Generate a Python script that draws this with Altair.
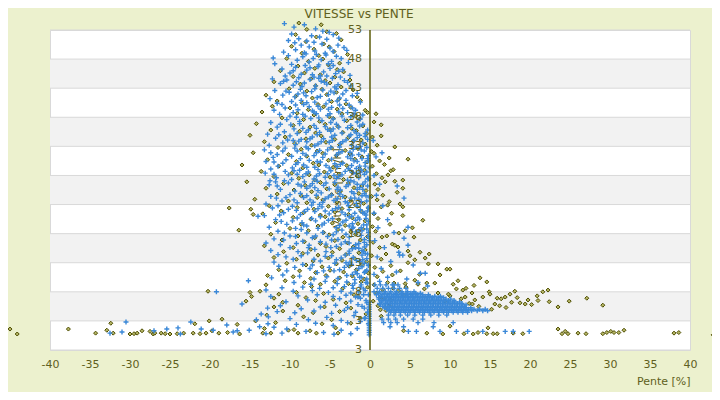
import altair as alt
import pandas as pd

title_text = "VITESSE vs PENTE"
x_title = "Pente [%]"
y_title = "Vitesse [km/h]"
x_ticks = [-40, -35, -30, -25, -20, -15, -10, -5, 0, 5, 10, 15, 20, 25, 30, 35, 40]
y_ticks = [-2, 3, 8, 13, 18, 23, 28, 33, 38, 43, 48, 53]
y_tick_labels = ["3", "3", "8", "13", "18", "23", "28", "33", "38", "43", "48", "53"]
band_lo = [3, 13, 23, 33, 43]
band_hi = [8, 18, 28, 38, 48]

# ---- blue series (pente, vitesse) ----
blue_high = [
    (-10.7,54.1),(-9.5,53.5),(-8.2,53.9),(-5.9,52.8),(-5.1,52.6),(-6.8,53.2),
    (-9.8,52.3),(-8.9,51.5),(-7.3,52.0),(-6.3,51.8),(-4.6,52.2),(-10.2,51.2),(-7.9,51.1),(-5.4,51.4),(-3.9,51.6),
    (-8.6,50.4),(-9.3,49.6),(-7.6,50.1),(-6.9,49.4),(-6.0,50.6),(-5.0,49.9),(-4.0,50.4),(-3.25,50.0),(-10.8,49.2),(-8.2,49.1),(-4.6,49.3),(-2.9,49.5),
    (-12.1,48.2),(-11.9,47.2),(-10.2,48.6),(-9.1,47.8),(-8.4,48.4),(-7.6,47.5),(-6.7,48.8),(-6.1,47.9),(-5.5,48.7),(-4.8,47.6),(-3.6,48.1),(-2.7,47.4),(-9.8,47.1),(-7.1,48.1),(-5.2,47.2),
    (-11.0,46.3),(-10.0,45.6),(-9.3,46.6),(-8.6,45.4),(-7.9,46.1),(-7.2,45.3),(-6.5,46.7),(-5.8,45.8),(-5.0,46.4),(-4.3,45.5),(-3.4,46.2),(-2.5,45.2),(-10.6,45.1),(-8.1,46.9),(-6.2,45.1),(-4.6,46.9),
    (-12.2,44.6),(-11.2,43.8),(-10.4,44.4),(-9.6,43.5),(-8.9,44.8),(-8.2,43.9),(-7.5,44.5),(-6.8,43.4),(-6.1,44.2),(-5.4,43.7),(-4.7,44.7),(-4.0,43.6),(-3.2,44.3),(-2.4,43.4),(-9.2,44.1),(-7.0,44.9),(-5.7,44.0),(-3.7,44.9),
    (-11.9,42.6),(-10.9,41.8),(-10.1,42.3),(-9.4,41.5),(-8.7,42.8),(-8.0,41.7),(-7.3,42.4),(-6.6,41.4),(-5.9,42.7),(-5.2,41.9),(-4.5,42.2),(-3.8,41.3),(-3.0,42.6),(-2.2,41.7),(-12.5,41.2),(-9.0,42.0),(-6.9,42.9),(-4.2,42.9),(-1.6,42.1),
    (-11.6,40.4),(-10.6,39.6),(-9.8,40.7),(-9.0,39.3),(-8.3,40.2),(-7.6,39.8),(-6.9,40.6),(-6.2,39.4),(-5.5,40.3),(-4.8,39.7),(-4.1,40.8),(-3.4,39.5),(-2.6,40.1),(-1.8,39.2),(-1.2,40.6),(-12.0,39.2),(-8.6,40.9),(-7.2,39.1),(-5.1,40.9),(-3.0,40.9),
    (-11.3,38.5),(-10.4,37.6),(-9.6,38.8),(-8.8,37.3),(-8.1,38.2),(-7.4,37.8),(-6.7,38.6),(-6.0,37.4),(-5.3,38.3),(-4.6,37.7),(-3.9,38.9),(-3.2,37.5),(-2.4,38.1),(-1.6,37.2),(-0.9,38.4),(-12.4,37.1),(-9.2,38.0),(-7.0,38.9),(-4.9,37.1),(-2.8,38.8),
]
blue_mid = [
    (-11.6,36.3),(-10.7,35.5),(-9.9,36.7),(-9.1,35.2),(-8.4,36.1),(-7.7,35.8),(-7.0,36.6),(-6.3,35.4),(-5.6,36.4),(-4.9,35.6),(-4.2,36.8),(-3.5,35.3),(-2.8,36.2),(-2.0,35.7),(-1.3,36.5),(-0.6,35.2),(-12.8,35.1),(-8.8,36.9),(-6.6,35.0),(-4.6,36.0),(-2.4,35.0),
    (-11.8,34.4),(-10.9,33.6),(-10.0,34.8),(-9.3,33.3),(-8.6,34.2),(-7.9,33.8),(-7.2,34.6),(-6.5,33.4),(-5.8,34.3),(-5.1,33.7),(-4.4,34.9),(-3.7,33.5),(-3.0,34.1),(-2.3,33.2),(-1.6,34.5),(-0.9,33.6),(-0.3,34.2),(-12.6,33.2),(-9.6,34.0),(-6.9,33.1),(-4.7,34.0),(-2.6,34.8),(-1.2,33.0),
    (-13.2,32.4),(-11.6,31.6),(-10.6,32.7),(-9.8,31.3),(-9.1,32.2),(-8.4,31.8),(-7.7,32.6),(-7.0,31.4),(-6.3,32.3),(-5.6,31.7),(-4.9,32.8),(-4.2,31.5),(-3.5,32.1),(-2.8,31.2),(-2.1,32.5),(-1.4,31.6),(-0.7,32.2),(-0.2,31.4),(-12.1,31.1),(-8.0,32.9),(-5.9,31.1),(-3.8,32.9),(-1.7,32.9),
    (-13.0,30.4),(-11.5,29.6),(-10.5,30.7),(-9.7,29.3),(-9.0,30.2),(-8.3,29.8),(-7.6,30.6),(-6.9,29.4),(-6.2,30.3),(-5.5,29.7),(-4.8,30.8),(-4.1,29.5),(-3.4,30.1),(-2.7,29.2),(-2.0,30.5),(-1.3,29.6),(-0.6,30.2),(-0.1,29.3),(-12.4,29.1),(-8.7,30.9),(-6.5,29.0),(-4.4,30.0),(-2.4,30.9),(-1.0,30.9),
    (-13.1,28.4),(-11.7,27.6),(-10.6,28.7),(-9.8,27.3),(-9.1,28.2),(-8.4,27.8),(-7.7,28.6),(-7.0,27.4),(-6.3,28.3),(-5.6,27.7),(-4.9,28.8),(-4.2,27.5),(-3.5,28.1),(-2.8,27.2),(-2.1,28.5),(-1.4,27.6),(-0.7,28.2),(-0.2,27.4),(-12.5,27.1),(-8.8,28.9),(-6.6,27.0),(-4.5,28.0),(-2.5,28.9),(-1.1,28.9),
    (-12.6,26.4),(-11.2,25.6),(-10.2,26.7),(-9.4,25.3),(-8.6,26.2),(-7.9,25.8),(-7.2,26.6),(-6.5,25.4),(-5.8,26.3),(-5.1,25.7),(-4.4,26.8),(-3.7,25.5),(-3.0,26.1),(-2.3,25.2),(-1.6,26.5),(-0.9,25.6),(-0.3,26.2),(-11.8,26.9),(-8.2,26.9),(-6.1,25.0),(-4.0,26.0),(-2.0,26.9),
    (-12.4,24.4),(-11.0,23.6),(-10.0,24.7),(-9.1,23.3),(-8.3,24.2),(-7.5,23.8),(-6.7,24.6),(-5.9,23.4),(-5.2,24.3),(-4.5,23.7),(-3.8,24.8),(-3.1,23.5),(-2.4,24.1),(-1.7,23.2),(-1.0,24.5),(-0.4,23.6),(-13.0,23.1),(-8.7,24.9),(-6.3,23.0),(-4.1,24.0),(-2.0,24.9),(-0.1,24.3),
    (-12.2,22.4),(-10.8,21.6),(-9.7,22.7),(-8.7,21.3),(-7.8,22.2),(-6.9,21.8),(-6.0,22.6),(-5.1,21.4),(-4.3,22.3),(-3.5,21.7),(-2.7,22.8),(-1.9,21.5),(-1.2,22.1),(-0.5,21.2),(-14.0,21.0),(-13.2,21.1),(-11.3,21.2),(-9.2,22.0),(-7.3,22.9),(-4.7,22.0),(-2.3,21.0),(-0.2,22.5),
]
blue_core_fill = [
    (-9.4,50.8),(-7.0,50.9),(-5.6,49.0),(-8.0,48.9),(-6.4,47.0),(-4.2,48.5),(-9.6,46.0),(-7.5,46.5),(-5.4,45.1),(-3.9,45.9),
    (-10.8,44.2),(-8.5,43.3),(-6.4,44.7),(-4.4,43.2),(-2.8,44.0),(-10.5,42.5),(-8.3,42.2),(-6.2,41.6),(-4.9,42.5),(-3.4,42.0),
    (-11.0,40.2),(-9.3,40.1),(-7.9,40.5),(-6.5,39.9),(-5.2,39.4),(-3.8,40.1),(-2.2,39.6),(-10.0,38.2),(-8.4,38.5),(-6.4,37.9),(-5.0,38.6),(-3.5,38.2),(-2.0,38.6),(-1.2,37.7),
    (-11.2,36.8),(-9.5,36.0),(-8.0,35.4),(-6.7,36.1),(-5.3,35.9),(-3.9,36.3),(-2.4,36.6),(-1.7,35.3),(-0.9,36.8),(-0.3,35.8),
    (-11.4,35.0),(-10.3,34.1),(-8.9,33.9),(-7.5,34.3),(-6.1,33.8),(-4.8,34.6),(-3.4,33.8),(-2.0,34.0),(-1.3,34.9),(-0.6,34.7),
    (-12.4,31.9),(-10.9,32.2),(-9.4,32.7),(-8.0,31.5),(-6.7,31.9),(-5.3,32.4),(-3.9,31.9),(-2.5,32.0),(-1.1,32.4),(-0.4,32.8),
    (-12.0,30.3),(-10.9,30.1),(-9.3,29.9),(-7.9,29.4),(-6.6,30.4),(-5.1,29.3),(-3.7,29.9),(-2.3,29.7),(-1.6,30.4),(-0.3,30.9),
    (-12.0,28.2),(-10.2,28.1),(-9.5,28.8),(-8.0,28.3),(-6.7,27.9),(-5.3,28.3),(-3.9,27.8),(-3.1,28.7),(-1.7,28.3),(-0.4,28.6),
    (-11.6,26.2),(-10.7,27.1),(-9.0,26.5),(-7.5,26.2),(-6.9,25.9),(-5.5,26.7),(-4.1,25.6),(-2.7,26.4),(-1.3,25.9),(-0.6,26.9),
    (-11.7,24.1),(-10.5,24.2),(-9.5,23.8),(-7.9,24.5),(-7.1,23.4),(-5.6,24.0),(-4.8,24.6),(-3.4,24.4),(-2.8,23.3),(-1.4,23.9),(-0.7,24.9),
    (-11.5,22.8),(-10.2,22.2),(-8.2,21.8),(-6.5,22.3),(-5.6,21.9),(-3.9,22.5),(-3.1,21.3),(-1.6,22.7),(-0.9,21.6),(-0.3,21.9),
    (-11.1,20.1),(-9.7,20.2),(-8.3,19.5),(-7.3,20.6),(-6.0,19.5),(-5.2,20.3),(-3.4,20.0),(-2.6,19.3),(-1.8,20.3),(-0.5,20.6),
    (-10.7,18.1),(-9.3,17.5),(-7.9,18.1),(-6.8,17.6),(-5.3,17.5),(-4.2,18.3),(-3.0,17.9),(-1.4,18.6),(-0.2,18.2),
    (-11.2,16.1),(-9.2,16.3),(-7.7,15.6),(-6.2,16.6),(-4.9,15.6),(-3.6,16.2),(-2.6,16.4),(-1.8,15.6),(-0.4,16.1),
    (-10.5,14.0),(-8.6,14.2),(-7.0,13.6),(-5.6,14.1),(-4.2,13.5),(-3.1,14.3),(-2.1,13.9),(-1.3,13.2),(-0.6,14.6),
    (-9.4,12.2),(-7.2,12.6),(-5.8,11.6),(-4.5,11.6),(-3.2,12.2),(-2.3,12.7),(-1.4,12.0),(-0.7,11.3),(-0.2,12.6),
]
blue_low = [
    (-11.8,20.4),(-10.4,19.6),(-9.1,20.7),(-7.9,19.3),(-6.8,20.2),(-5.7,19.8),(-4.7,20.6),(-3.8,19.4),(-3.0,20.3),(-2.2,19.7),(-1.5,20.8),(-0.8,19.5),(-0.2,20.1),(-12.6,19.1),(-8.5,19.9),(-6.2,20.9),(-4.2,19.0),(-2.6,20.9),(-1.1,19.0),
    (-11.5,18.4),(-10.0,17.6),(-8.6,18.7),(-7.2,17.3),(-5.9,18.2),(-4.6,17.8),(-3.5,18.6),(-2.6,17.4),(-1.8,18.3),(-1.1,17.7),(-0.4,18.8),(-12.0,17.1),(-9.3,18.9),(-6.5,18.9),(-4.0,17.0),(-2.2,18.9),(-0.7,17.0),
    (-13.0,16.4),(-10.0,15.6),(-8.4,16.7),(-6.9,15.3),(-5.5,16.2),(-4.2,15.8),(-3.1,16.6),(-2.2,15.4),(-1.4,16.3),(-0.7,15.7),(-0.1,16.8),(-12.4,15.1),(-10.8,16.9),(-7.6,16.0),(-4.8,16.9),(-2.6,15.0),(-1.0,15.1),
    (-11.5,14.4),(-9.6,13.6),(-7.8,14.7),(-6.2,13.3),(-4.8,14.2),(-3.6,13.8),(-2.6,14.6),(-1.7,13.4),(-1.0,14.3),(-0.4,13.7),(-12.0,13.1),(-9.0,14.9),(-5.5,14.9),(-3.0,13.0),(-0.8,14.9),
    (-11.4,12.4),(-10.4,11.6),(-8.4,12.7),(-6.6,11.3),(-5.1,12.2),(-3.8,11.8),(-2.7,12.6),(-1.8,11.4),(-1.0,12.3),(-0.4,11.7),(-7.5,12.0),(-4.4,12.9),(-2.2,11.0),(-0.7,12.9),
    (-15.2,9.9),(-12.3,10.4),(-10.9,10.9),(-9.5,9.6),(-8.8,10.7),(-7.4,9.3),(-7.0,10.2),(-5.6,9.8),(-5.4,10.6),(-4.1,9.4),(-4.0,10.3),(-2.9,9.7),(-2.9,10.8),(-1.9,9.5),(-1.9,10.1),(-1.1,9.2),(-1.1,10.5),(-0.5,9.6),(-0.4,10.2),
    (-19.2,8.0),(-13.0,8.3),(-12.4,7.2),(-11.0,8.7),(-9.6,8.1),(-9.0,7.3),(-8.4,8.8),(-7.2,8.2),(-6.6,7.5),(-6.3,8.6),(-5.2,7.9),(-4.6,7.2),(-4.6,8.7),(-3.6,8.1),(-3.0,7.4),(-3.2,8.9),(-2.4,7.8),(-1.8,7.1),(-2.1,8.6),(-1.4,8.0),(-0.8,7.5),(-1.2,8.8),(-0.6,8.2),
    (-16.0,5.9),(-12.8,5.2),(-11.2,5.6),(-10.5,6.3),(-8.6,5.1),(-7.8,6.6),(-6.2,5.4),(-5.6,6.2),(-4.3,5.7),(-3.8,6.8),(-2.8,5.3),(-2.4,6.4),(-1.5,5.8),(-1.2,6.9),(-0.4,6.1),(-0.7,5.2),
    (-14.2,3.2),(-13.6,4.2),(-12.7,3.7),(-11.6,4.6),(-10.0,3.4),(-9.4,4.4),(-7.7,3.2),(-7.0,4.7),(-5.4,3.6),(-4.8,4.3),(-3.6,3.1),(-3.2,4.8),(-2.0,3.9),(-1.8,4.5),(-0.7,3.4),
    (-30.5,2.8),(-32.5,0.9),(-31.0,1.1),(-27.0,1.3),(-25.4,1.6),(-24.0,1.8),(-23.7,0.75),(-22.4,2.8),(-21.1,1.6),(-19.6,1.4),(-17.9,2.3),(-17.1,1.1),(-16.6,1.3),(-15.1,1.4),(-13.8,2.0),(-12.75,2.5),(-13.0,0.8),(-12.0,1.9),(-11.0,0.9),(-10.4,1.6),(-9.2,2.4),(-8.0,1.2),(-6.8,2.6),(-5.8,1.0),(-4.6,2.2),(-4.5,0.7),(-3.6,1.4),(-2.8,2.7),(-2.4,0.8),(-1.6,1.7),(-1.2,2.9),
]
blue_near_zero = [
    (-0.2,30.5),(-0.6,29.6),(-1.2,28.6),(-0.3,27.5),(-0.9,26.5),(-1.6,25.6),(-0.5,24.5),(-1.1,23.5),(-0.2,22.5),(-0.7,21.5),(-1.3,20.5),(-0.4,19.5),(-1.0,18.5),(-0.2,17.5),(-0.7,16.5),(-1.4,15.5),(-0.3,14.5),(-0.9,13.5),(-0.2,12.5),(-0.6,11.5),(-1.3,10.5),(-0.3,9.5),(-0.8,8.5),(-0.2,7.5),(-0.5,6.5),(-1.0,5.5),(-0.3,4.5),(-0.6,3.5),(-0.2,2.5),
    (-2.2,31.5),(-1.7,29.2),(-2.4,27.1),(-1.9,24.1),(-2.6,22.1),(-2.1,19.1),(-1.8,16.1),(-2.5,13.1),(-1.6,11.1),(-2.2,9.1),(-1.5,7.1),
]
blue_zero_column_v = [0.6, 1.0, 1.4, 1.8, 2.2, 2.6, 3.0, 3.4, 3.8, 4.2, 4.6, 5.0, 5.4, 5.8, 6.2]
blue_blob_rows = [
    (9.2, [0.6, 1.3, 2.0, 2.8, 3.5]),
    (8.6, [0.9, 1.6, 2.3, 3.0, 3.7, 4.5]),
    (8.0, [0.5, 1.2, 1.9, 2.6, 3.3, 4.0, 4.7, 5.5]),
    (7.75, [1.1, 1.8, 2.5, 3.2, 3.9, 4.5, 5.1, 5.7, 6.3]),
    (7.5, [0.8, 1.5, 2.2, 2.9, 3.5, 4.1, 4.7, 5.3, 5.9, 6.6, 7.3]),
    (7.25, [1.4, 2.1, 2.7, 3.3, 3.9, 4.5, 5.1, 5.7, 6.3, 6.9, 7.5, 8.1, 8.8]),
    (7.0, [1.1, 1.8, 2.4, 3.0, 3.6, 4.2, 4.8, 5.4, 6.0, 6.6, 7.2, 7.8, 8.5, 9.2]),
    (6.75, [1.1, 1.7, 2.3, 2.9, 3.5, 4.1, 4.7, 5.3, 5.9, 6.5, 7.1, 7.7, 8.3, 8.9, 9.5, 10.1]),
    (6.5, [1.4, 2.0, 2.6, 3.2, 3.8, 4.4, 5.0, 5.6, 6.2, 6.8, 7.4, 8.0, 8.6, 9.2, 9.8, 10.5]),
    (6.25, [1.5, 2.2, 2.8, 3.4, 4.0, 4.6, 5.2, 5.8, 6.4, 7.0, 7.6, 8.2, 8.8, 9.4, 10.0, 10.6, 11.2]),
    (6.0, [1.2, 1.9, 2.5, 3.1, 3.7, 4.3, 4.9, 5.5, 6.1, 6.7, 7.3, 7.9, 8.5, 9.1, 9.7, 10.3, 10.9, 11.5]),
    (5.75, [1.3, 1.9, 2.5, 3.1, 3.7, 4.3, 4.9, 5.5, 6.1, 6.7, 7.3, 7.9, 8.5, 9.1, 9.7, 10.3, 10.9, 11.5, 12.0]),
    (5.5, [1.6, 2.2, 2.8, 3.4, 4.0, 4.6, 5.2, 5.8, 6.4, 7.0, 7.6, 8.2, 8.8, 9.4, 10.0, 10.6, 11.2, 11.8]),
    (5.25, [1.8, 2.4, 3.0, 3.6, 4.2, 4.8, 5.4, 6.0, 6.6, 7.2, 7.8, 8.4, 9.0, 9.6, 10.2, 10.8, 11.4, 12.0, 12.6]),
    (5.0, [2.1, 2.7, 3.3, 3.9, 4.5, 5.1, 5.7, 6.3, 6.9, 7.5, 8.1, 8.7, 9.3, 9.9, 10.5, 11.1, 11.7, 12.3, 13.0, 13.7, 14.4]),
    (4.75, [2.4, 3.0, 3.6, 4.2, 4.8, 5.4, 6.0, 6.6, 7.2, 7.8, 8.4, 9.0, 9.6, 10.2, 10.8, 11.4, 12.0, 12.7, 13.4, 14.1, 14.7]),
    (4.5, [2.6, 3.2, 3.8, 4.4, 5.0, 5.6, 6.2, 6.8, 7.4, 8.0, 8.6, 9.2, 9.8, 10.4, 11.0, 11.6, 12.2]),
    (4.0, [2.3, 3.0, 3.8, 4.7, 5.6, 6.6, 7.6, 8.6, 9.6]),
    (3.3, [1.5, 2.3, 3.2, 4.2, 5.4, 6.6]),
    (2.7, [1.7, 2.6, 3.4, 6.0, 8.0, 10.4]),
    (2.0, [2.5, 4.2, 7.9]),
    (1.2, [4.8, 5.8, 8.75, 10.8, 12.2, 14.1, 16.9, 17.9, 19.9]),
]
blue_right_extra = [
    (0.4,34.0),(0.75,31.2),(1.5,31.9),(0.5,28.0),(1.2,26.5),(3.4,26.2),(0.8,24.6),(4.25,24.1),(1.6,22.8),(0.5,21.5),(2.2,20.4),(4.75,19.1),(1.0,19.0),(3.0,18.2),(4.25,17.2),(0.6,16.8),(4.75,16.0),(1.8,15.6),(3.6,14.8),(0.9,14.0),(2.6,13.2),(5.4,12.6),(1.4,12.0),(3.3,11.4),(0.5,11.0),(2.2,10.5),(4.6,10.2),(6.0,9.6),(1.2,9.8),(3.0,9.2),(7.2,9.0),(6.3,11.2),(6.9,11.2),(3.7,14.3),(4.1,14.3),
]

# ---- olive series (pente, vitesse) ----
olive_high = [
    (-8.9,54.2),(-6.1,53.9),(-7.9,53.1),(-5.4,52.7),(-9.3,52.2),(-6.7,51.8),(-4.2,52.4),(-8.0,51.0),(-5.8,50.6),(-3.6,51.3),(-9.8,50.2),(-7.0,49.7),(-5.1,50.1),(-8.5,49.0),(-6.4,48.6),(-4.5,49.3),(-2.8,48.8),(-10.4,48.1),(-7.7,47.6),(-5.9,48.0),(-3.8,47.3),(-9.0,46.8),(-6.9,46.4),(-5.2,47.0),(-4.1,46.2),(-11.2,46.0),(-8.2,45.6),(-6.2,45.3),(-3.3,45.8),(-9.6,45.0),(-7.4,44.6),(-5.6,44.3),(-4.4,44.9),(-2.5,44.4),(-12.0,44.1),(-8.7,43.7),(-6.8,43.4),(-5.0,43.9),(-3.6,43.2),(-10.1,42.9),(-7.9,42.5),(-6.0,42.8),(-4.2,42.3),(-2.1,42.7),(-13.0,41.8),(-9.3,41.6),(-7.2,41.3),(-5.4,41.9),(-3.9,41.1),(-1.6,41.5),(-11.6,40.8),(-8.5,40.5),(-6.5,40.2),(-4.8,40.7),(-3.0,40.3),(-1.2,40.9),(-12.2,39.9),(-10.0,39.6),(-7.7,39.3),(-5.8,39.8),(-4.1,39.4),(-2.4,39.7),(-0.6,39.2),(-13.5,38.9),(-9.1,38.7),(-7.0,38.4),(-5.1,38.1),(-3.5,38.6),(-1.8,38.2),(-0.3,38.8),(0.75,38.6),(-11.0,37.9),(-8.3,37.6),(-6.3,37.3),(-4.6,37.8),(-2.9,37.4),(-1.3,37.7),(0.5,37.2),(1.4,36.7),(-14.2,36.9),(-9.6,36.6),(-7.5,36.3),(-5.6,36.8),(-4.0,36.4),(-2.3,36.1),(-0.9,36.5),
]
olive_mid = [
    (-12.4,35.8),(-8.8,35.6),(-6.8,35.3),(-5.0,35.9),(-3.4,35.4),(-1.7,35.7),(-0.4,35.2),(1.4,34.8),(-15.0,34.9),(-10.6,34.6),(-8.0,34.3),(-6.1,34.8),(-4.4,34.2),(-2.7,34.5),(-1.1,34.1),(0.3,34.6),(-13.2,33.8),(-9.4,33.5),(-7.3,33.2),(-5.5,33.7),(-3.8,33.3),(-2.1,33.9),(-0.6,33.4),(0.9,33.2),(3.1,32.9),(-11.5,32.8),(-8.6,32.5),(-6.6,32.2),(-4.8,32.7),(-3.1,32.3),(-1.5,32.6),(0.2,32.1),(-14.6,31.9),(-10.2,31.6),(-7.9,31.3),(-5.9,31.8),(-4.2,31.4),(-2.5,31.7),(-1.0,31.2),(0.5,31.8),(2.4,31.0),(4.75,30.8),(-12.8,30.7),(-9.2,30.4),(-7.1,30.1),(-5.2,30.6),(-3.5,30.2),(-1.9,30.8),(-0.4,30.3),(1.2,30.5),(-16.0,29.8),(-11.4,29.6),(-8.4,29.3),(-6.4,29.8),(-4.6,29.4),(-2.9,29.7),(-1.3,29.2),(0.3,29.6),(1.8,29.9),(2.6,28.8),(-13.6,28.7),(-9.8,28.4),(-7.6,28.1),(-5.7,28.6),(-3.9,28.2),(-2.2,28.5),(-0.7,28.9),(0.8,28.3),(2.25,28.1),(2.9,29.0),(-12.0,27.8),(-8.9,27.5),(-6.9,27.2),(-5.0,27.7),(-3.3,27.3),(-1.6,27.9),(-0.1,27.4),(1.5,27.6),(3.1,27.0),(4.1,27.2),(-15.4,26.9),(-10.8,26.6),(-8.1,26.3),(-6.2,26.8),(-4.4,26.4),(-2.7,26.7),(-1.0,26.2),(0.6,26.5),(1.9,26.9),(-13.0,25.8),(-9.5,25.5),(-7.3,25.2),(-5.4,25.7),(-3.7,25.3),(-2.0,25.9),(-0.5,25.4),(1.0,25.6),(3.4,25.1),(4.1,25.8),(-11.6,24.8),(-8.6,24.5),(-6.6,24.2),(-4.8,24.7),(-3.1,24.3),(-1.4,24.9),(0.2,24.4),(1.6,24.6),(-14.4,23.9),(-10.2,23.6),(-7.9,23.3),(-5.9,23.8),(-4.1,23.4),(-2.4,23.7),(-0.8,23.2),(0.9,23.8),(2.4,23.5),(3.75,23.1),(-12.6,22.8),(-9.1,22.5),(-7.0,22.2),(-5.2,22.7),(-3.5,22.3),(-1.8,22.9),(-0.2,22.4),(1.4,22.6),(2.2,22.9),(4.1,22.6),
]
olive_low = [
    (-17.6,22.4),(-14.9,22.2),(-14.6,21.3),(-13.4,21.4),(-11.1,21.9),(-8.3,21.6),(-6.2,21.2),(-4.4,21.7),(-2.7,21.3),(-1.1,21.8),(0.5,21.4),(2.7,21.5),(4.1,21.1),(-9.6,20.8),(-7.4,20.5),(-5.6,20.9),(-3.9,20.4),(-2.2,20.7),(-0.6,20.2),(1.0,20.6),(6.6,20.3),(-11.8,19.9),(-8.6,19.6),(-6.5,19.3),(-4.7,19.8),(-3.1,19.4),(-1.5,19.7),(0.3,19.2),(2.5,19.6),(5.3,19.0),(-10.0,18.9),(-7.7,18.5),(-5.8,18.2),(-4.0,18.7),(-2.4,18.3),(-0.9,18.8),(0.7,18.4),(3.6,18.1),(4.4,18.5),(-16.4,18.6),(-12.4,17.9),(-9.0,17.6),(-6.9,17.3),(-5.1,17.8),(-3.4,17.4),(-1.8,17.9),(-0.3,17.5),(1.5,17.4),(2.1,17.6),(5.5,17.4),(-11.0,16.9),(-8.2,16.6),(-6.2,16.3),(-4.4,16.8),(-2.8,16.4),(-1.2,16.9),(0.4,16.5),(2.8,16.2),(3.1,16.0),(-13.2,15.9),(-9.6,15.6),(-7.4,15.3),(-5.5,15.8),(-3.8,15.4),(-2.1,15.7),(-0.6,15.2),(1.2,15.6),(3.5,15.7),(-10.8,14.9),(-8.4,14.6),(-6.5,14.3),(-4.7,14.8),(-3.0,14.4),(-1.4,14.7),(0.2,14.2),(2.0,14.5),(4.75,15.0),(6.25,14.8),(6.9,13.8),(7.4,14.5),(5.0,14.2),(-12.0,13.9),(-9.2,13.6),(-7.1,13.3),(-5.2,13.8),(-3.5,13.4),(-1.9,13.7),(-0.4,13.2),(1.4,13.6),(5.6,13.5),(4.75,13.0),(7.3,12.8),(8.5,12.8),(-10.4,12.9),(-8.0,12.6),(-6.0,12.3),(-4.2,12.8),(-2.6,12.4),(-1.0,12.7),(0.6,12.2),(2.6,12.5),(9.6,11.9),(10.0,11.9),(-11.4,11.8),(-8.8,11.6),(-6.8,11.3),(-5.0,11.7),(-3.3,11.4),(-1.7,11.8),(-0.2,11.2),(1.6,11.5),(3.8,11.6),(8.75,10.9),(6.2,11.0),(-12.8,10.8),(-9.6,10.6),(-7.4,10.3),(-5.5,10.8),(-3.8,10.4),(-2.2,10.7),(-0.7,10.2),(0.9,10.6),(2.8,10.9),(5.6,10.0),(13.75,10.4),(14.6,9.7),(11.0,9.9),(10.4,9.3),(8.1,9.5),(7.1,9.5),(6.0,9.3),(-10.6,9.9),(-8.2,9.6),(-6.2,9.3),(-4.4,9.8),(-2.7,9.4),(-1.1,9.7),(0.5,9.2),(2.2,9.6),(4.4,9.4),
    (-13.0,9.2),(-7.3,8.9),(-3.4,8.6),(-0.3,8.8),(1.6,8.4),(11.6,8.3),(14.9,8.0),(18.1,8.1),(21.6,8.0),(22.25,8.3),(12.75,7.8),(17.5,7.6),(20.9,7.3),(-20.25,8.1),(-15.0,7.9),(-13.75,8.1),(-11.4,7.6),(-9.2,7.9),(-5.8,7.7),(-2.0,7.5),(0.8,7.8),(3.6,8.2),(-14.8,7.2),(-12.0,6.9),(-8.0,7.0),(-4.6,6.7),(-1.5,7.2),(1.2,7.0),(4.2,7.4),(10.0,7.3),(11.9,7.1),(13.1,6.6),(14.1,7.1),(15.9,6.9),(16.9,7.1),(9.4,6.4),(-15.5,6.4),(-10.9,6.2),(-6.8,6.5),(-3.0,6.1),(0.4,6.4),(2.6,6.6),(22.4,6.3),(24.9,6.4),(27.1,6.9),(-12.0,5.4),(-9.0,5.7),(-5.7,5.4),(-2.4,5.2),(1.0,5.6),(13.6,5.5),(18.75,6.1),(19.4,5.9),(19.75,6.6),(23.5,5.4),(29.1,5.7),(-12.9,4.0),(-10.9,4.7),(-7.1,4.4),(-3.8,4.6),(-0.5,4.2),(2.0,4.8),(12.4,6.0),(15.2,5.0),(16.2,5.6),(-18.5,3.3),(-14.3,3.0),(-8.3,3.7),(-4.8,3.2),(-1.2,3.5),(1.4,3.8),
    (12.0,8.6),(13.0,9.1),(15.0,7.6),(15.6,5.9),(16.4,6.8),(17.0,5.3),(17.7,6.2),(18.4,7.0),(20.2,5.8),(21.0,6.5),(1.8,6.8),(2.4,5.6),(1.3,4.9),(2.9,8.6),(3.0,9.5),(4.5,8.8),(6.8,8.5),(8.5,7.8),(11.4,6.8),(12.8,5.9),(9.8,7.6),(10.8,8.5),
]
olive_floor = [
    (-32.4,2.6),(-21.9,2.5),(-16.6,2.4),(-11.8,2.7),(-6.0,2.5),(-2.4,2.6),(10.0,2.1),(-37.7,1.6),(-28.5,1.3),(-20.1,3.0),(-13.2,1.7),(-9.5,1.5),(-4.3,1.8),(4.2,1.3),(14.75,1.8),(23.5,1.6),(31.75,1.4),(-45.0,1.6),(-44.1,0.75),
    (-34.3,0.9),(-32.9,1.4),(-32.1,0.9),(-30.0,0.75),(-29.5,0.8),(-29.1,0.9),(-27.5,1.2),(-27.1,0.75),(-26.9,0.9),(-26.1,0.9),(-25.6,0.8),(-25.0,0.75),(-24.1,0.8),(-23.3,0.9),(-22.1,0.9),(-21.25,0.8),(-20.5,0.9),(-19.75,1.3),(-18.9,0.9),(-17.8,1.0),(-16.3,0.75),(-13.4,0.9),(-12.4,0.9),(-10.2,1.4),(-9.0,0.9),(-7.5,1.3),(-6.7,0.9),(-4.0,0.9),
    (7.1,0.9),(9.1,0.75),(11.75,0.8),(12.9,0.75),(13.5,1.0),(14.6,0.8),(15.4,0.8),(15.9,0.8),(17.9,0.9),(19.1,0.8),(24.0,0.8),(24.4,1.2),(24.75,0.8),(26.0,0.9),(27.0,0.8),(29.1,0.8),(29.6,1.0),(30.1,1.2),(30.5,1.0),(31.1,1.0),(38.0,0.9),(38.6,1.0),(42.9,0.6),(43.2,1.0),
]

# ---- tables built from the lists ----
blue_pairs = blue_high + blue_mid + blue_core_fill + blue_low + blue_near_zero + blue_right_extra
blue_pairs += [(-0.1, v) for v in blue_zero_column_v]
for v, ps in blue_blob_rows:
    blue_pairs += [(p, v) for p in ps]
olive_pairs = olive_high + olive_mid + olive_low + olive_floor

blue_df = pd.DataFrame(blue_pairs, columns=["pente", "vitesse"])
olive_df = pd.DataFrame(olive_pairs, columns=["pente", "vitesse"])
bands_df = pd.DataFrame({"lo": band_lo, "hi": band_hi})
grid_df = pd.DataFrame({"v": y_ticks, "label": y_tick_labels})
zero_df = pd.DataFrame({"pente": [0]})

OLIVE_TXT = "#5f6020"
FONT = "DejaVu Sans"

xscale = alt.Scale(domain=[-40, 40], nice=False, zero=False)
yscale = alt.Scale(domain=[-2, 53], nice=False, zero=False)

x_axis = alt.Axis(values=x_ticks, grid=False, domain=False, ticks=False, tickSize=0,
                  labelPadding=8, labelFlush=False, labelExpr="'' + datum.value",
                  labelColor=OLIVE_TXT, labelFontSize=11, labelFont=FONT,
                  title=x_title, titleColor=OLIVE_TXT, titleFontSize=11, titleFont=FONT,
                  titleFontWeight="normal", titleAnchor="end", titleAlign="right",
                  titleBaseline="top", titleX=640, titleY=25)
x_enc = alt.X("pente:Q", scale=xscale, axis=x_axis)
y_enc = alt.Y("vitesse:Q", scale=yscale, axis=None)

bands = alt.Chart(bands_df).mark_rect(color="#f2f2f2").encode(
    y=alt.Y("lo:Q", scale=yscale, axis=None), y2="hi:Q",
    x=alt.value(0), x2=alt.value(640),
)
grid = alt.Chart(grid_df).mark_rule(color="#d9d9d9", strokeWidth=1).encode(
    y=alt.Y("v:Q", scale=yscale, axis=None), x=alt.value(0), x2=alt.value(640),
)
ylabels = alt.Chart(grid_df).mark_text(
    font=FONT, fontSize=11, color=OLIVE_TXT, align="right", baseline="middle"
).encode(text="label:N", y=alt.Y("v:Q", scale=yscale, axis=None), x=alt.value(312))
ytitle = alt.Chart(pd.DataFrame({"t": [y_title]})).mark_text(
    angle=270, font=FONT, fontSize=11, color=OLIVE_TXT, align="center", baseline="middle"
).encode(text="t:N", x=alt.value(288), y=alt.value(158))
zero_line = alt.Chart(zero_df).mark_rule(color="#5c5c0a", strokeWidth=1.5).encode(
    x=x_enc, y=alt.value(0), y2=alt.value(320),
)
title = alt.Chart(pd.DataFrame({"t": [title_text]})).mark_text(
    font=FONT, fontSize=12, color=OLIVE_TXT, align="center", baseline="alphabetic"
).encode(text="t:N", x=alt.value(309), y=alt.value(-12))

blue = alt.Chart(blue_df).mark_point(
    shape="M-1,0L1,0M0,-1L0,1", filled=False, color="#3a88d8", strokeWidth=1.4,
    size=25, opacity=1,
).encode(x=x_enc, y=y_enc)

olive = alt.Chart(olive_df).mark_point(
    shape="diamond", filled=True, fill="#b5b565", stroke="#4d4d00", strokeWidth=1,
    size=16, opacity=1,
).encode(x=x_enc, y=y_enc)

chart = alt.layer(bands, grid, olive, ytitle, blue, ylabels, zero_line, title).properties(
    width=640, height=320,
    autosize=alt.AutoSizeParams(type="none"),
    padding={"left": 42, "top": 22, "right": 22, "bottom": 42},
).configure(background="#ecf1ce").configure_view(stroke="#d9d9d9", fill="white")

chart.save("out.html", embed_options={"renderer": "svg", "actions": False})
